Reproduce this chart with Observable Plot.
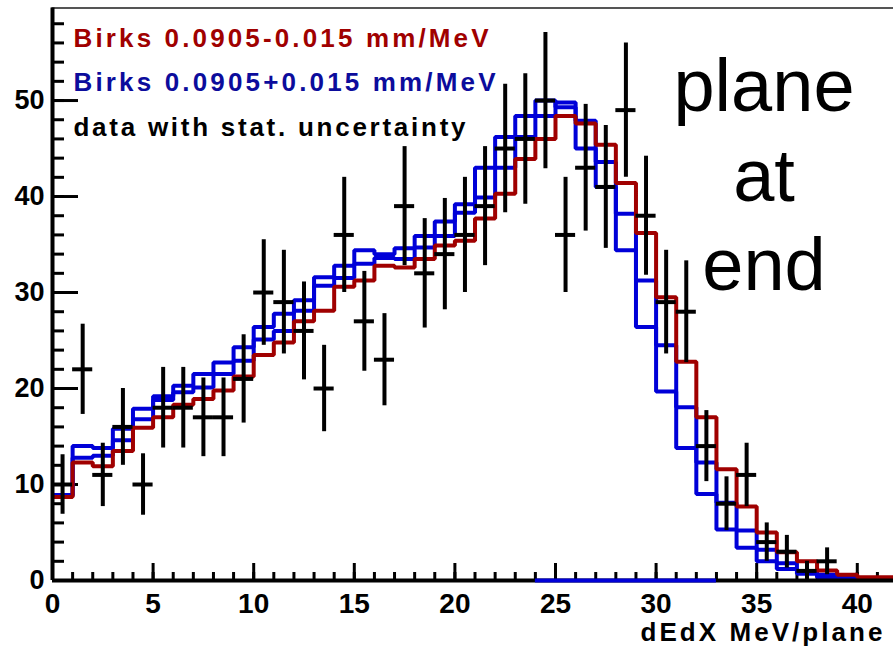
<!DOCTYPE html>
<html><head><meta charset="utf-8">
<script src="https://cdn.jsdelivr.net/npm/d3@7"></script>
<script src="https://cdn.jsdelivr.net/npm/@observablehq/plot@0.6"></script>
<style>
html,body{margin:0;padding:0;background:#fff;overflow:hidden;}
</style></head><body><div id="chart"></div>
<script>
// bin lower edges (1 MeV/plane bins)
const binLow = [0,1,2,3,4,5,6,7,8,9,10,11,12,13,14,15,16,17,18,19,20,21,22,23,24,25,26,27,28,29,30,31,32,33,34,35,36,37,38,39,40,41];
// Birks 0.0905-0.015 mm/MeV (red)
const birksMinus = [8.7,12.3,11.9,13.5,15.9,17.0,18.3,18.9,19.8,21.25,23.5,24.8,27.0,28.1,30.6,31.25,32.8,32.6,33.5,34.9,35.4,37.7,40.3,43.9,46.0,48.4,47.6,45.4,41.4,36.2,29.5,22.8,17.0,11.6,7.7,5.0,2.95,2.0,1.05,0.6,0.35,0.35];
// Birks 0.0905+0.015 mm/MeV (blue), two overlaid histograms
const birksPlusA = [8.9,14.0,13.8,15.8,17.9,19.2,20.3,21.5,22.7,24.3,26.4,27.8,29.2,31.6,32.8,34.4,34.0,34.6,35.9,37.4,39.2,43.0,46.2,48.4,50.0,49.3,45.0,41.0,34.4,26.4,19.7,13.8,9.0,5.3,3.4,2.0,1.2,0.7,0.35,0.2,0.1,0.05];
const birksPlusB = [8.8,12.8,13.0,14.6,16.8,18.8,19.6,20.1,21.5,22.9,25.1,26.0,28.1,30.7,31.5,33.0,33.6,33.5,34.7,35.9,38.3,39.9,43.0,46.2,48.4,49.8,47.9,43.6,38.2,31.25,24.5,18.05,12.3,8.1,5.2,3.2,1.8,1.0,0.6,0.3,0.15,0.1];
// blue empty bins drawn along the axis
const zeroBinLow = [24,25,26,27,28,29,30,31,32];
// data with stat. uncertainty
const dataX = [0.5,1.5,2.5,3.5,4.5,5.5,6.5,7.5,8.5,9.5,10.5,11.5,12.5,13.5,14.5,15.5,16.5,17.5,18.5,19.5,20.5,21.5,22.5,23.5,24.5,25.5,26.5,27.5,28.5,29.5,30.5,31.5,32.5,33.5,34.5,35.5,36.5,37.5,38.5];
const dataY = [10,22,11,16,10,18,18,17,17,21,30,29,26,20,36,27,23,39,32,34,36,39,45,46,50,36,43,41,49,38,29,28,14,8,11,4,3,1,2];
const dataErr = [3.1,4.7,3.3,4.0,3.2,4.2,4.2,4.1,4.1,4.6,5.5,5.4,5.1,4.5,6.0,5.2,4.8,6.2,5.7,5.8,6.0,6.2,6.7,6.8,7.1,6.0,6.6,6.4,7.0,6.2,5.4,5.3,3.7,2.8,3.3,2.0,1.7,1.0,1.4];
// axes
const xTicks = [0,5,10,15,20,25,30,35,40];
const xMinorTicks = [0,1,2,3,4,5,6,7,8,9,10,11,12,13,14,15,16,17,18,19,20,21,22,23,24,25,26,27,28,29,30,31,32,33,34,35,36,37,38,39,40,41];
const yTicks = [0,10,20,30,40,50];
const yMinorTicks = [0,2,4,6,8,10,12,14,16,18,20,22,24,26,28,30,32,34,36,38,40,42,44,46,48,50,52,54,56,58];
const legendLabels = ["Birks 0.0905-0.015 mm/MeV","Birks 0.0905+0.015 mm/MeV","data with stat. uncertainty"];
const xLabel = "dEdX MeV/plane";
const annotation = "plane\nat\nend";

function stepPoints(lows, vals) {
  const pts = lows.map((x, i) => ({x, y: vals[i]}));
  pts.push({x: lows[lows.length - 1] + 1, y: vals[vals.length - 1]});
  return pts;
}
const data = dataX.map((x, i) => ({x, y: dataY[i], e: dataErr[i]}));
const zeroSpan = [{x1: zeroBinLow[0], x2: zeroBinLow[zeroBinLow.length - 1] + 1}];

const W = 893, H = 647, ML = 52, MR = 0, MT = 7.5, MB = 67;
const FW = W - ML - MR, FH = H - MT - MB;
const XMAX = 41.8, YMAX = 59.64;
const RED = "#a00000", BLUE = "#0000d8", BLUE_TXT = "#0c0c9c";
const FONT = "'Liberation Sans', Arial, Helvetica, sans-serif";
const histOpts = {x: "x", y: "y", curve: "step-after", strokeWidth: 4, strokeLinejoin: "miter", strokeLinecap: "butt"};

const plot = Plot.plot({
  width: W, height: H,
  marginLeft: ML, marginRight: MR, marginTop: MT, marginBottom: MB,
  style: {fontFamily: FONT, background: "white", color: "black"},
  x: {domain: [0, XMAX]},
  y: {domain: [0, YMAX]},
  marks: [
    Plot.frame({anchor: "top", stroke: "#555", strokeWidth: 2}),
    // axis ticks pointing into the frame
    Plot.tickX(xTicks, {x: d => d, insetTop: FH - 17, stroke: "black", strokeWidth: 3}),
    Plot.tickX(xMinorTicks, {x: d => d, insetTop: FH - 8, stroke: "black", strokeWidth: 3}),
    Plot.tickY(yTicks, {y: d => d, insetRight: FW - 26, stroke: "black", strokeWidth: 3}),
    Plot.tickY(yMinorTicks, {y: d => d, insetRight: FW - 12, stroke: "black", strokeWidth: 3}),
    // histograms
    Plot.line(stepPoints(binLow, birksPlusB), {...histOpts, stroke: BLUE}),
    Plot.line(stepPoints(binLow, birksPlusA), {...histOpts, stroke: BLUE}),
    Plot.line(stepPoints(binLow, birksMinus), {...histOpts, stroke: RED}),
    // data
    Plot.ruleX(data, {x: "x", y1: d => d.y - d.e, y2: d => d.y + d.e, stroke: "black", strokeWidth: 4}),
    Plot.ruleY(data, {y: "y", x1: d => d.x - 0.5, x2: d => d.x + 0.5, stroke: "black", strokeWidth: 4}),
    // axis lines
    Plot.ruleX([0], {stroke: "black", strokeWidth: 4}),
    Plot.ruleY([0], {stroke: "black", strokeWidth: 4}),
    Plot.ruleY(zeroSpan, {y: 0, x1: "x1", x2: "x2", stroke: BLUE, strokeWidth: 4}),
    // labels
    Plot.axisX({ticks: xTicks, tickSize: 0, tickPadding: 13, fontSize: 28, fontWeight: "bold", fill: "black", label: null}),
    Plot.axisY({ticks: yTicks, tickSize: 0, tickPadding: 8, fontSize: 27, fontWeight: "bold", fill: "black", label: null}),
    Plot.text([legendLabels[0]], {text: d => d, frameAnchor: "top-left", dx: 21, dy: 21, fontSize: 26, fontWeight: "bold", fill: RED, textAnchor: "start", lineAnchor: "top"}),
    Plot.text([legendLabels[1]], {text: d => d, frameAnchor: "top-left", dx: 21, dy: 64.5, fontSize: 26, fontWeight: "bold", fill: BLUE_TXT, textAnchor: "start", lineAnchor: "top"}),
    Plot.text([legendLabels[2]], {text: d => d, frameAnchor: "top-left", dx: 21, dy: 109.5, fontSize: 26, fontWeight: "bold", fill: "black", textAnchor: "start", lineAnchor: "top"}),
    Plot.text([xLabel], {text: d => d, frameAnchor: "bottom-right", dx: -11, dy: 42, fontSize: 26, fontWeight: "bold", fill: "black", textAnchor: "end", lineAnchor: "top"}),
    Plot.text([annotation], {text: d => d, frameAnchor: "top-right", dx: -129.5, dy: 39.5, fontSize: 74, lineHeight: 1.21, fill: "black", textAnchor: "middle", lineAnchor: "top"})
  ]
});
const lens = {};
lens[legendLabels[0]] = 415; lens[legendLabels[1]] = 422; lens[legendLabels[2]] = 392; lens[xLabel] = 242;
d3.select(plot).selectAll("text").each(function () {
  const t = this.textContent;
  if (lens[t]) { this.setAttribute("textLength", lens[t]); this.setAttribute("lengthAdjust", "spacing"); }
});
document.getElementById("chart").appendChild(plot);
</script></body></html>
